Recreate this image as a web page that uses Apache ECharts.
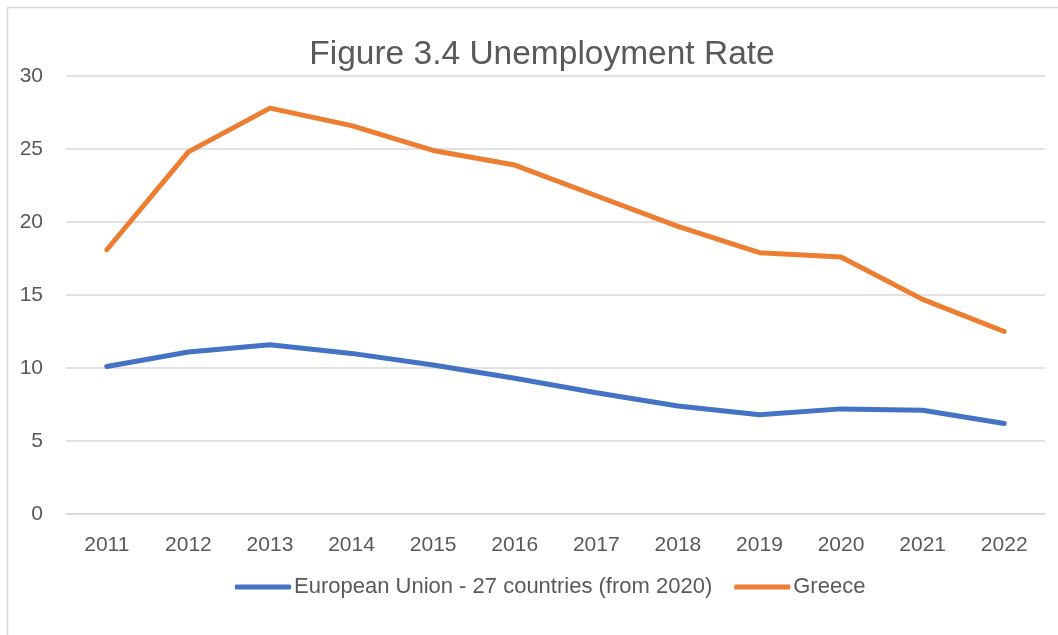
<!DOCTYPE html>
<html>
<head>
<meta charset="utf-8">
<script src="https://cdn.jsdelivr.net/npm/echarts@6/dist/echarts.min.js"></script>
<style>
  html, body { margin: 0; padding: 0; background: #ffffff; }
  #chart { width: 1058px; height: 635px; }
</style>
</head>
<body>
<div id="chart"></div>
<script>
// Unemployment rate (%), 2011–2022
const years = ['2011', '2012', '2013', '2014', '2015', '2016', '2017', '2018', '2019', '2020', '2021', '2022'];
const euRate = [10.1, 11.1, 11.6, 11.0, 10.2, 9.3, 8.3, 7.4, 6.8, 7.2, 7.1, 6.2];
const greeceRate = [18.1, 24.8, 27.8, 26.6, 24.9, 23.9, 21.8, 19.7, 17.9, 17.6, 14.7, 12.5];
const seriesNames = ['European Union - 27 countries (from 2020)', 'Greece'];

const FONT = '"Liberation Sans", Arial, sans-serif';
const TEXT = '#595959';
const GRID = '#d9d9d9';

const chart = echarts.init(document.getElementById('chart'), null, { renderer: 'canvas' });

chart.setOption({
  animation: false,
  backgroundColor: '#ffffff',
  textStyle: { fontFamily: FONT },
  // chart-area border (top and left edges visible)
  graphic: [{
    type: 'rect',
    shape: { x: 7.5, y: 7.5, width: 1200, height: 800 },
    style: { fill: 'none', stroke: GRID, lineWidth: 1.5 },
    silent: true
  }],
  title: {
    text: 'Figure 3.4 Unemployment Rate',
    left: 537,
    top: 33,
    textAlign: 'center',
    textStyle: { fontFamily: FONT, fontSize: 33.5, fontWeight: 'normal', color: TEXT }
  },
  legend: {
    data: seriesNames,
    bottom: 32,
    left: 230,
    icon: 'roundRect',
    itemWidth: 56,
    itemHeight: 5,
    itemGap: 22,
    textStyle: { fontFamily: FONT, fontSize: 22, color: TEXT, padding: [0, 0, 0, -2] }
  },
  grid: { left: 66, right: 13, top: 76, bottom: 121, containLabel: false },
  xAxis: {
    type: 'category',
    data: years,
    boundaryGap: true,
    axisLine: { show: true, lineStyle: { color: GRID, width: 1.5 } },
    axisTick: { show: false },
    axisLabel: { color: TEXT, fontSize: 21, margin: 21, fontFamily: FONT }
  },
  yAxis: {
    type: 'value',
    min: 0,
    max: 30,
    interval: 5,
    axisLine: { show: false },
    axisTick: { show: false },
    splitLine: { lineStyle: { color: GRID, width: 1.5 } },
    axisLabel: { color: TEXT, fontSize: 21, margin: 23, fontFamily: FONT }
  },
  series: [
    {
      name: seriesNames[0],
      type: 'line',
      data: euRate,
      showSymbol: false,
      symbol: 'none',
      color: '#4472C4',
      lineStyle: { width: 5, color: '#4472C4', cap: 'round', join: 'round' }
    },
    {
      name: seriesNames[1],
      type: 'line',
      data: greeceRate,
      showSymbol: false,
      symbol: 'none',
      color: '#ED7D31',
      lineStyle: { width: 5, color: '#ED7D31', cap: 'round', join: 'round' }
    }
  ]
});
</script>
</body>
</html>
